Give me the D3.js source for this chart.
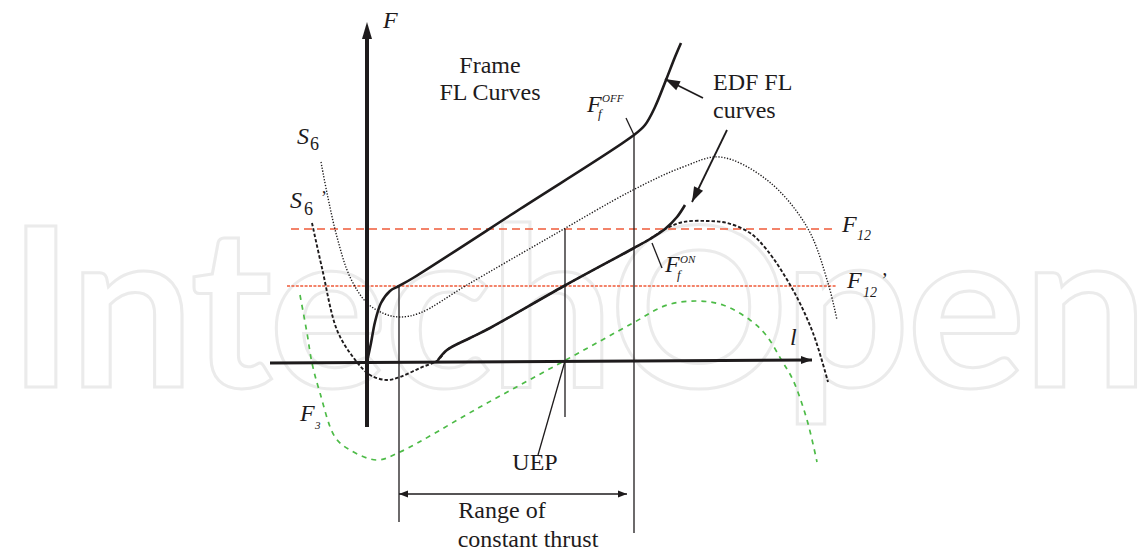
<!DOCTYPE html>
<html>
<head>
<meta charset="utf-8">
<script src="https://cdn.jsdelivr.net/npm/d3@7"></script>
<style>
  html, body { margin: 0; padding: 0; background: #fff; }
  svg { display: block; }
</style>
</head>
<body>
<svg id="chart" width="1140" height="551"></svg>
<script>
// ---- Curve data, in (l, F) units --------------------------------------
const frameCurve = [[0,0],[0.8,3.8],[1.6,8],[2.8,11.8],[4.6,14.2],[6.4,15.2],[9.2,16.8],[30.6,30.6],
  [53.4,45.4],[55.6,47.4],[57.6,51],[59.8,56.4],[61.6,61],[62.8,63.8]];
const edfCurve = [[14.2,0.4],[16,2.4],[20.6,4.8],[24.6,6.8],[39.4,15.2],[53.4,22.8],[56.6,24.6],
  [59.6,26.6],[62,29],[63.6,31.4]];
const s6Curve = [[-9.2,40],[-8,33.8],[-6,25],[-3.4,17],[0,11.8],[3.6,9.6],[6.6,9],[10.6,9.8],
  [20,15.4],[36.6,25],[53.2,34.4],[63.2,39],[70.6,41],[80,36.4],[88,27],[92.2,15.8],[94,8.4]];
const s6PrimeCurve = [[-11,27.8],[-9,18.8],[-6,6.4],[-2.8,1],[0.6,-2.6],[4,-3.6],[6.6,-3],[10.6,-1.2],
  [14.2,0.4],[16,2.4],[20.6,4.8],[24.6,6.8],[39.4,15.2],[53.4,22.8],[56.6,24.6],[59.6,26.6],
  [63.2,28],[68,28.2],[72,27.8],[76.6,25.8],[80,22.4],[85.2,14.4],[89.2,5.8],[92.2,-4]];
const f3Curve = [[-13.4,13.4],[-12,5.8],[-11,-0.2],[-9.4,-6.2],[-6.4,-15],[-3.4,-17.6],[2,-19.6],
  [6.6,-18],[22.6,-9],[39.4,0.2],[53.2,7.8],[60,11.4],[66,12.2],[71.2,11.4],[76.6,8.4],
  [79.8,5.4],[83,0.2],[85.2,-3.6],[88,-11.6],[90,-20]];

// Force levels F12 and F12'
const levelNames = ["F12", "F12'"];
const levelValues = [26.6, 15.2];
const levelSpans = [[-15.2, 93.2], [-16, 94]];

// Marker lines: l position, top F, bottom F
const markerL = [6.4, 39.6, 53.4];
const markerTop = [15.2, 26.6, 45.4];
const markerBottom = [-32, -11, -34.2];

// Range of constant thrust
const thrustRange = [6.4, 52];
const thrustRangeF = -26.4;

// Axes extents
const lAxis = [[-19.4, -0.2], [89, 0.4]];
const fAxis = [[0, -13], [0, 68]];

// Leaders: [from, to]
const leaderOff = [[51.8, 48.8], [53.4, 45.4]];
const leaderOn = [[57, 23.8], [59, 18.8]];
const leaderUep = [[39.6, 0.2], [34.2, -18.6]];
const edfArrows = [[[67.2, 52.8], [59.6, 56.6]], [[72, 46.4], [65, 32]]];

// ---- Scales --------------------------------------------------------------
const x = d3.scaleLinear().domain([0, 100]).range([367, 867]);
const y = d3.scaleLinear().domain([0, 100]).range([362, -138]);

const svg = d3.select("#chart");
const ink = "#1e1b1c";

// Watermark lettering behind the diagram
svg.append("text")
  .attr("x", 8).attr("y", 387)
  .style("font-family", "Lato").style("font-weight", 700).style("font-size", "222px")
  .attr("textLength", 1140).attr("lengthAdjust", "spacing")
  .attr("fill", "none").attr("stroke", "#ebebeb").attr("stroke-width", 3)
  .text("IntechOpen");

const line = d3.line().x(d => x(d[0])).y(d => y(d[1])).curve(d3.curveCatmullRom.alpha(0.5));
const straight = d3.line().x(d => x(d[0])).y(d => y(d[1]));

function arrowHead(from, tip, len, half) {
  const x0 = x(from[0]), y0 = y(from[1]), x1 = x(tip[0]), y1 = y(tip[1]);
  const a = Math.atan2(y1 - y0, x1 - x0);
  const bx = x1 - len * Math.cos(a), by = y1 - len * Math.sin(a);
  const px = -Math.sin(a) * half, py = Math.cos(a) * half;
  return `M${x1},${y1}L${bx + px},${by + py}L${bx - px},${by - py}Z`;
}

// Force level lines
const levelStyles = [{dash: "8,5"}, {dash: "3,1.4"}];
levelValues.forEach((v, i) => {
  svg.append("path")
    .attr("d", straight([[levelSpans[i][0], v], [levelSpans[i][1], v]]))
    .attr("stroke", "#ef5b3a").attr("stroke-width", 1.7)
    .attr("stroke-dasharray", levelStyles[i].dash).attr("fill", "none");
});

// F3 curve
svg.append("path").attr("d", line(f3Curve))
  .attr("fill", "none").attr("stroke", "#4dbb47").attr("stroke-width", 1.7)
  .attr("stroke-dasharray", "5,5");

// S6 and S6' curves
svg.append("path").attr("d", line(s6Curve))
  .attr("fill", "none").attr("stroke", ink).attr("stroke-width", 1.4)
  .attr("stroke-dasharray", "1.3,1.6");
svg.append("path").attr("d", line(s6PrimeCurve))
  .attr("fill", "none").attr("stroke", ink).attr("stroke-width", 1.9)
  .attr("stroke-dasharray", "3.5,2");

// Marker verticals
markerL.forEach((l, i) => {
  svg.append("path").attr("d", straight([[l, markerTop[i]], [l, markerBottom[i]]]))
    .attr("stroke", ink).attr("stroke-width", 1.3).attr("fill", "none");
});

// Frame and EDF curves
svg.append("path").attr("d", line(frameCurve))
  .attr("fill", "none").attr("stroke", ink).attr("stroke-width", 2.6);
svg.append("path").attr("d", line(edfCurve))
  .attr("fill", "none").attr("stroke", ink).attr("stroke-width", 2.6);

// Axes
svg.append("path").attr("d", straight(lAxis)).attr("stroke", ink).attr("stroke-width", 3);
svg.append("path").attr("d", arrowHead(lAxis[0], lAxis[1], 11, 4)).attr("fill", ink);
svg.append("path").attr("d", straight([fAxis[0], [0, fAxis[1][1] - 2.5]])).attr("stroke", ink).attr("stroke-width", 4);
svg.append("path").attr("d", arrowHead(fAxis[0], fAxis[1], 17, 5)).attr("fill", ink);

// Range of constant thrust arrow
const rA = [thrustRange[0], thrustRangeF], rB = [thrustRange[1], thrustRangeF];
svg.append("path").attr("d", straight([rA, rB])).attr("stroke", ink).attr("stroke-width", 1.3);
svg.append("path").attr("d", arrowHead(rB, rA, 9, 3.5)).attr("fill", ink);
svg.append("path").attr("d", arrowHead(rA, rB, 9, 3.5)).attr("fill", ink);

// Leader lines
[leaderOff, leaderOn, leaderUep].forEach(seg => {
  svg.append("path").attr("d", straight(seg)).attr("stroke", ink).attr("stroke-width", 1.3);
});
edfArrows.forEach(seg => {
  svg.append("path").attr("d", straight(seg)).attr("stroke", ink).attr("stroke-width", 1.8);
  svg.append("path").attr("d", arrowHead(seg[0], seg[1], 15, 5)).attr("fill", ink);
});

// ---- Labels --------------------------------------------------------------
function label(l, f, str, size, opts = {}) {
  return svg.append("text")
    .attr("x", x(l)).attr("y", y(f))
    .style("font-family", "\"Liberation Serif\", \"Times New Roman\", serif")
    .style("font-size", size + "px")
    .style("font-style", opts.italic ? "italic" : "normal")
    .attr("text-anchor", opts.anchor || "start")
    .attr("fill", ink).text(str);
}

label(3.2, 66.8, "F", 24, {italic: true});
label(24.6, 57.8, "Frame", 24, {anchor: "middle"});
label(24.6, 52.4, "FL Curves", 24, {anchor: "middle"});
label(69.2, 54.4, "EDF FL", 24);
label(69.2, 48.8, "curves", 24);

// S6 and S6'
label(-14, 43.6, "S", 24, {italic: true});
label(-11.4, 42.4, "6", 18);
label(-15.4, 30.8, "S", 24, {italic: true});
label(-12.6, 29.4, "6", 18);
label(-9.2, 31.6, "\u2019", 18);

// F_f^OFF and F_f^ON
label(44, 50, "F", 24, {italic: true});
label(47, 52, "OFF", 11, {italic: true});
label(46.2, 48.8, "f", 13, {italic: true});
label(59.6, 18, "F", 24, {italic: true});
label(62.6, 19.8, "ON", 11, {italic: true});
label(62, 16.6, "f", 13, {italic: true});

// F12 and F12'
label(95, 26, "F", 24, {italic: true});
label(98, 24.4, levelNames[0].slice(1), 14, {italic: true});
label(96, 14.8, "F", 24, {italic: true});
label(99.2, 13, levelNames[1].slice(1, 3), 14, {italic: true});
label(102.6, 15, "\u2019", 20, {italic: true});

// l axis, F3, UEP, range text
label(84.6, 3.4, "l", 24, {italic: true});
label(-13.4, -11.8, "F", 24, {italic: true});
label(-10.4, -13.4, "3", 11, {italic: true});
label(33.6, -21.6, "UEP", 24, {anchor: "middle"});
label(27, -31.2, "Range of", 24, {anchor: "middle"});
label(32.2, -37, "constant thrust", 24, {anchor: "middle"});
</script>
</body>
</html>
